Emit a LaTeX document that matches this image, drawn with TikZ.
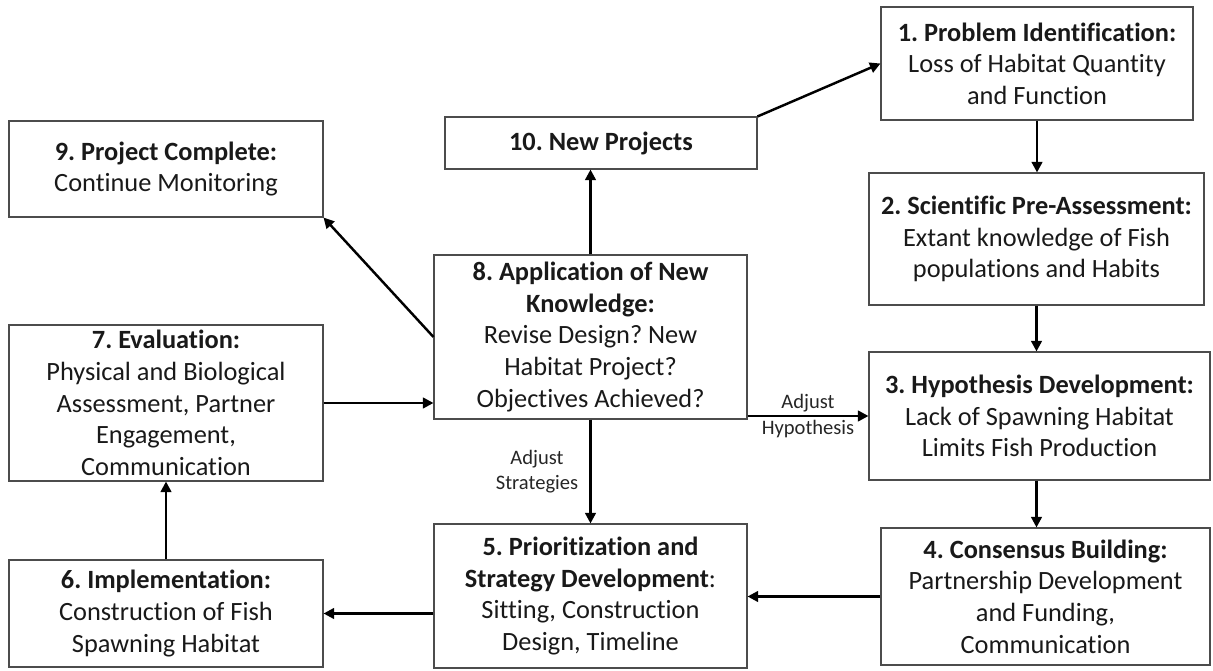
\documentclass[tikz,border=0pt]{standalone}
\usepackage{fontspec}
\setmainfont[Ligatures=NoCommon]{Carlito}
\frenchspacing
\usetikzlibrary{arrows.meta}

\begin{document}
\begin{tikzpicture}[
  font=\fontsize{15}{18}\selectfont,
  >={Triangle[length=6pt,width=6pt]},
  stepbox/.style={draw=black!70, line width=0.6pt, align=center, inner sep=2pt, text=black!90},
  flow/.style={->, line width=1.4pt},
  lbl/.style={font=\fontsize{11.7}{14.6}\selectfont, align=center, text=black!85},
]
  \useasboundingbox (0,0) rectangle (24.26,13.4);

  % Right column: steps 1-4
  \node[stepbox, minimum width=6.24cm, minimum height=2.26cm] (problem) at (20.74,12.13)
    {\textbf{1. Problem Identification:}\\Loss of Habitat Quantity\\and Function};
  \node[stepbox, minimum width=6.70cm, minimum height=2.64cm] (assess) at (20.73,8.62)
    {\textbf{2. Scientific Pre-Assessment:}\\Extant knowledge of Fish\\populations and Habits};
  \node[stepbox, minimum width=6.82cm, minimum height=2.56cm] (hypo) at (20.79,5.08)
    {\textbf{3. Hypothesis Development:}\\Lack of Spawning Habitat\\Limits Fish Production};
  \node[stepbox, minimum width=6.58cm, minimum height=2.74cm] (consensus) at (20.91,1.47)
    {\textbf{4. Consensus Building:}\\Partnership Development\\and Funding,\\Communication};

  % Middle column: steps 5, 8, 10
  \node[stepbox, minimum width=6.26cm, minimum height=2.88cm] (prior) at (11.81,1.48)
    {\textbf{5. Prioritization and}\\\textbf{Strategy Development}:\\Sitting, Construction\\Design, Timeline};
  \node[stepbox, minimum width=6.26cm, minimum height=3.28cm] (apply) at (11.81,6.66)
    {\textbf{8. Application of New}\\\textbf{Knowledge:}\\Revise Design? New\\Habitat Project?\\Objectives Achieved?};
  \node[stepbox, minimum width=6.24cm, minimum height=1.04cm] (newproj) at (12.02,10.54)
    {\textbf{10. New Projects}};

  % Left column: steps 6, 7, 9
  \node[stepbox, minimum width=6.28cm, minimum height=2.14cm] (impl) at (3.32,1.13)
    {\textbf{6. Implementation:}\\Construction of Fish\\Spawning Habitat};
  \node[stepbox, minimum width=6.28cm, minimum height=3.12cm] (eval) at (3.32,5.34)
    {\textbf{7. Evaluation:}\\Physical and Biological\\Assessment, Partner\\Engagement,\\Communication};
  \node[stepbox, minimum width=6.28cm, minimum height=1.92cm] (done) at (3.32,10.02)
    {\textbf{9. Project Complete:}\\Continue Monitoring};

  % Main loop
  \draw[flow] (newproj.north east) -- (problem.west);
  \draw[flow] (problem.south) -- (problem.south |- assess.north);
  \draw[flow] (assess.south) -- (assess.south |- hypo.north);
  \draw[flow] (assess.south |- hypo.south) -- (assess.south |- consensus.north);
  \draw[flow] (consensus.west) -- (consensus.west -| prior.east);
  \draw[flow] (impl.east -| prior.west) -- (impl.east);
  \draw[flow] (impl.north) -- (eval.south);
  \draw[flow] (eval.east) -- (eval.east -| apply.west);

  % Out of step 8
  \draw[flow] (hypo.west -| apply.east) -- (hypo.west)
    node[lbl, midway] {Adjust\\Hypothesis};
  \draw[flow] (apply.south) -- (prior.north)
    node[lbl, midway, left=3pt] {Adjust\\Strategies};
  \draw[flow] (apply.north) -- (apply.north |- newproj.south);
  \draw[flow] (apply.west) -- (done.south east);
\end{tikzpicture}
\end{document}
